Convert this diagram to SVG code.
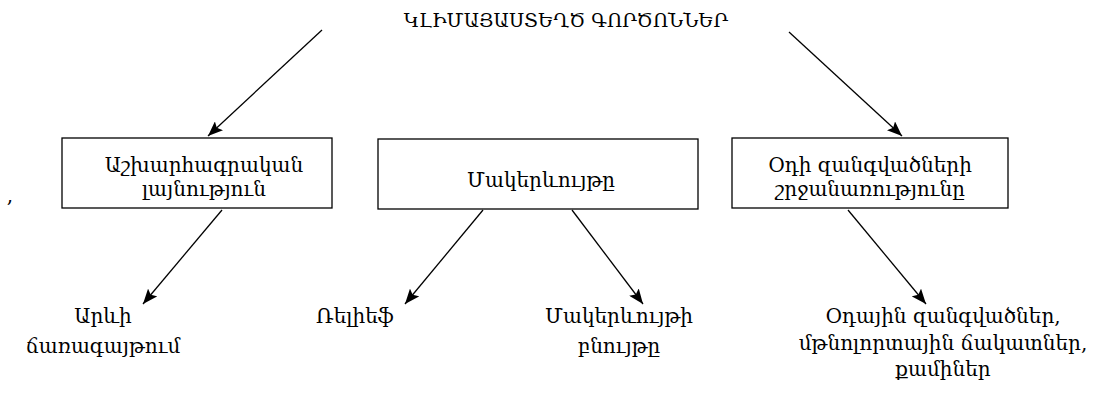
<svg xmlns="http://www.w3.org/2000/svg" width="1100" height="395" viewBox="0 0 1100 395">
<style>
text{font-family:"DejaVu Serif","Noto Serif",serif;font-size:20px;fill:#000;text-anchor:middle}
.box{fill:#fff;stroke:#000;stroke-width:1.3}
.c{stroke:#000;stroke-width:1.3;fill:none;marker-end:url(#ah)}
</style>
<defs>
<marker id="ah" viewBox="0 0 10 10" refX="10" refY="5" markerWidth="15" markerHeight="12" markerUnits="userSpaceOnUse" orient="auto" preserveAspectRatio="none">
<path d="M0,0 L10,5 L0,10 L2,5 z" fill="#000"/>
</marker>
</defs>
<rect width="1100" height="395" fill="#fff"/>
<g id="title"><text x="566" y="27" style="font-size:19px">ԿԼԻՄԱՅԱՍՏԵՂԾ ԳՈՐԾՈՆՆԵՐ</text></g>
<g id="comma"><text x="10" y="202">,</text></g>
<g id="box1"><rect class="box" x="62" y="138" width="270" height="70"/><text x="204" y="172">Աշխարհագրական</text><text x="204" y="196">լայնություն</text></g>
<g id="box2"><rect class="box" x="378" y="139" width="320" height="70"/><text x="541" y="187">Մակերևույթը</text></g>
<g id="box3"><rect class="box" x="732" y="138" width="276" height="70"/><text x="870" y="172">Օդի զանգվածների</text><text x="870" y="196">շրջանառությունը</text></g>
<g id="leaf1"><text x="103" y="323">Արևի</text><text x="103" y="353">ճառագայթում</text></g>
<g id="leaf2"><text x="355" y="323">Ռելիեֆ</text></g>
<g id="leaf3"><text x="619" y="323">Մակերևույթի</text><text x="619" y="353">բնույթը</text></g>
<g id="leaf4"><text x="943" y="323">Օդային զանգվածներ,</text><text x="943" y="350">մթնոլորտային ճակատներ,</text><text x="943" y="376">քամիներ</text></g>
<g id="connectors">
<line class="c" x1="322" y1="30" x2="208" y2="136"/>
<line class="c" x1="789" y1="32" x2="902" y2="136"/>
<line class="c" x1="222" y1="210" x2="143" y2="304"/>
<line class="c" x1="483" y1="210" x2="405" y2="304"/>
<line class="c" x1="572" y1="210" x2="643" y2="304"/>
<line class="c" x1="848" y1="210" x2="926" y2="304"/>
</g>
</svg>
